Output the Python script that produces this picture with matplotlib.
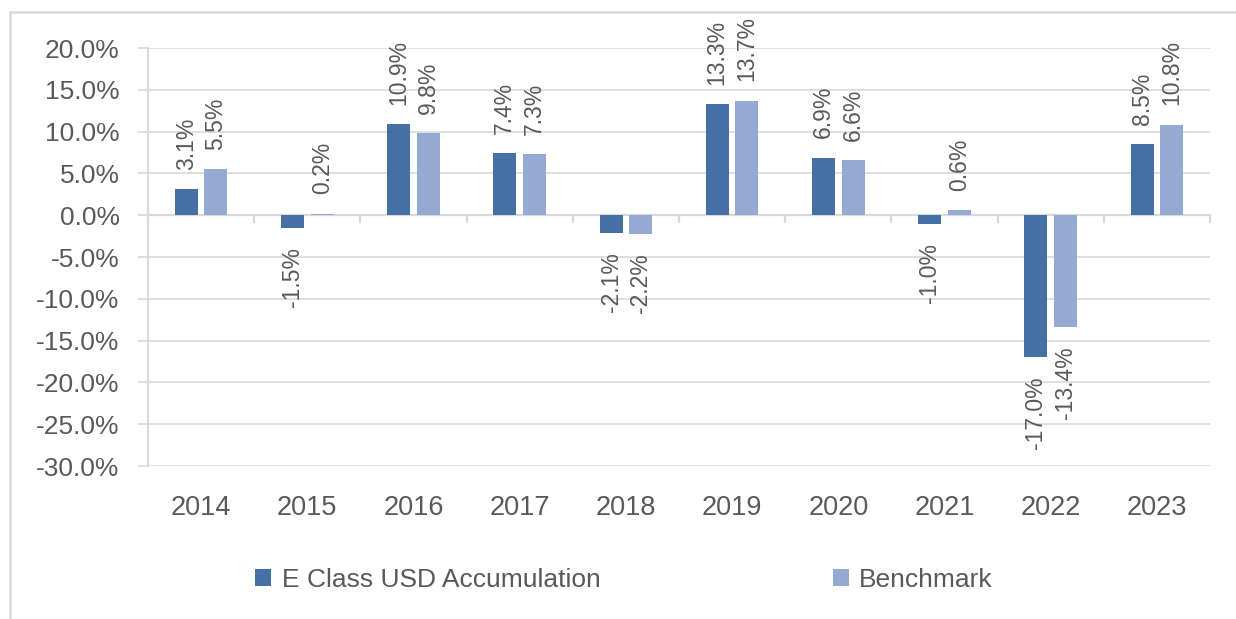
import matplotlib
matplotlib.use("Agg")
import matplotlib.pyplot as plt
import matplotlib.transforms as mtransforms
from matplotlib.lines import Line2D
import numpy as np

plt.rcParams['font.family'] = ['Liberation Sans', 'DejaVu Sans']

years = ['2014', '2015', '2016', '2017', '2018', '2019', '2020', '2021', '2022', '2023']
fund = [3.1, -1.5, 10.9, 7.4, -2.1, 13.3, 6.9, -1.0, -17.0, 8.5]
benchmark = [5.5, 0.2, 9.8, 7.3, -2.2, 13.7, 6.6, 0.6, -13.4, 10.8]
series_names = ['E Class USD Accumulation', 'Benchmark']

DARK = '#4470a5'
LIGHT = '#95aad2'
GRID = '#d9d9d9'
TEXT = '#595959'

fig = plt.figure(figsize=(12.36, 6.19), dpi=100)
ax = fig.add_axes([148 / 1236, 1 - 466 / 619, (1210 - 148) / 1236, (466 - 48) / 619])

x = np.arange(len(years))
width = 0.217
off = 0.14
b1 = ax.bar(x - off, fund, width, color=DARK, label=series_names[0], zorder=3)
b2 = ax.bar(x + off, benchmark, width, color=LIGHT, label=series_names[1], zorder=3)

# rotated data labels, above positive bars and below negative ones
for xs, vals in ((x - off, fund), (x + off, benchmark)):
    for xi, v in zip(xs, vals):
        ax.annotate(f'{v:.1f}%', (xi, v), xytext=(0, 14 if v >= 0 else -14),
                    textcoords='offset points', rotation=90, ha='center',
                    va='bottom' if v >= 0 else 'top', fontsize=16.5, color=TEXT,
                    zorder=4)

ax.set_xlim(-0.5, len(years) - 0.5)
ax.set_ylim(-30, 20)
yt = np.arange(-30, 21, 5)
ax.set_yticks(yt)
ax.set_yticklabels([f'{t:.1f}%' for t in yt])
ax.yaxis.grid(True, color=GRID, lw=1.2, zorder=0)
ax.tick_params(axis='y', length=7.5, width=1.2, color=GRID, pad=13,
               labelsize=19, labelcolor=TEXT)

# category axis sitting on zero, ticks at category boundaries
ax.spines['bottom'].set_position(('data', 0))
ax.spines['bottom'].set_color(GRID)
ax.spines['bottom'].set_linewidth(1.6)
ax.spines['bottom'].set_zorder(2)
ax.set_xticks(np.arange(-0.5, len(years), 1.0))
ax.set_xticklabels([])
ax.tick_params(axis='x', direction='out', length=6, width=1.6, color=GRID)
for s in ('top', 'right'):
    ax.spines[s].set_visible(False)
ax.spines['left'].set_color(GRID)
ax.spines['left'].set_linewidth(1.6)

trans = mtransforms.blended_transform_factory(ax.transData, ax.transAxes)
for xi, yr in zip(x, years):
    ax.text(xi, -0.1, yr, transform=trans, ha='center', va='center',
            fontsize=19.5, color=TEXT)

leg = fig.legend(handles=[b1, b2], loc='center', bbox_to_anchor=(0.505, 1 - 580 / 619),
                 ncol=2, frameon=False, fontsize=19, handlelength=0.6, handleheight=0.6,
                 handletextpad=0.4, columnspacing=8.8)
for t in leg.get_texts():
    t.set_color(TEXT)

# outer chart border (top and left edges visible)
fig.add_artist(Line2D([10 / 1236, 1], [1 - 12 / 619, 1 - 12 / 619],
                      transform=fig.transFigure, color=GRID, lw=1.8))
fig.add_artist(Line2D([10 / 1236, 10 / 1236], [0, 1 - 12 / 619],
                      transform=fig.transFigure, color=GRID, lw=1.8))

fig.savefig('out.png', dpi=100)
